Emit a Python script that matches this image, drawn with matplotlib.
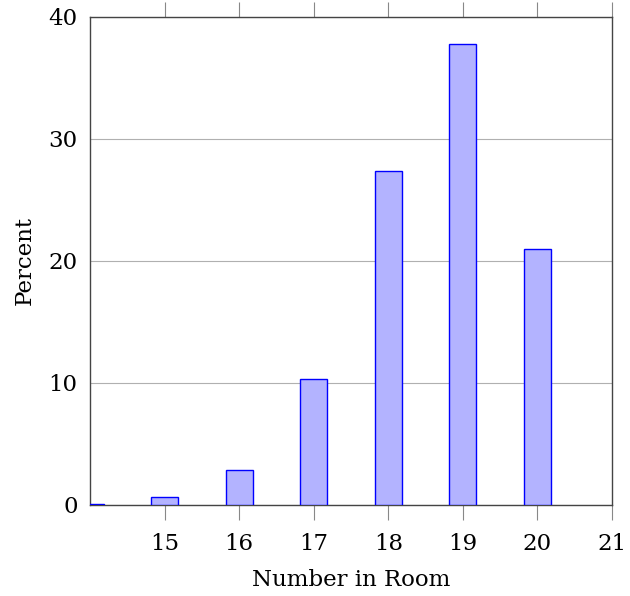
import matplotlib
matplotlib.use('Agg')
import matplotlib.pyplot as plt

rooms = [14, 15, 16, 17, 18, 19, 20]
percent = [0.05, 0.66, 2.87, 10.33, 27.35, 37.75, 20.98]
xticks = [15, 16, 17, 18, 19, 20, 21]
yticks = [0, 10, 20, 30, 40]

plt.rcParams['font.family'] = 'DejaVu Serif'
plt.rcParams['font.size'] = 16.5

fig = plt.figure(figsize=(6.3, 5.96), dpi=100)
ax = fig.add_axes([0.1429, 0.1527, 0.8285, 0.8188])

ax.bar(rooms, percent, width=0.363, color='#b3b3ff', edgecolor='blue', lw=1, zorder=3)

ax.set_xlim(14, 21)
ax.set_ylim(0, 40)
ax.set_xticks(xticks)
ax.set_yticks(yticks)
ax.yaxis.grid(True, color='#b0b0b0', lw=0.8, zorder=0)

ax.tick_params(axis='x', direction='out', length=11, color='#888888', top=True, width=0.8, pad=9)
ax.tick_params(axis='y', length=0, pad=9)
for s in ax.spines.values():
    s.set_color('#444444')
    s.set_linewidth(1.0)

ax.set_xlabel('Number in Room', labelpad=10)
ax.set_ylabel('Percent', labelpad=9)

fig.savefig('out.png', dpi=100)
